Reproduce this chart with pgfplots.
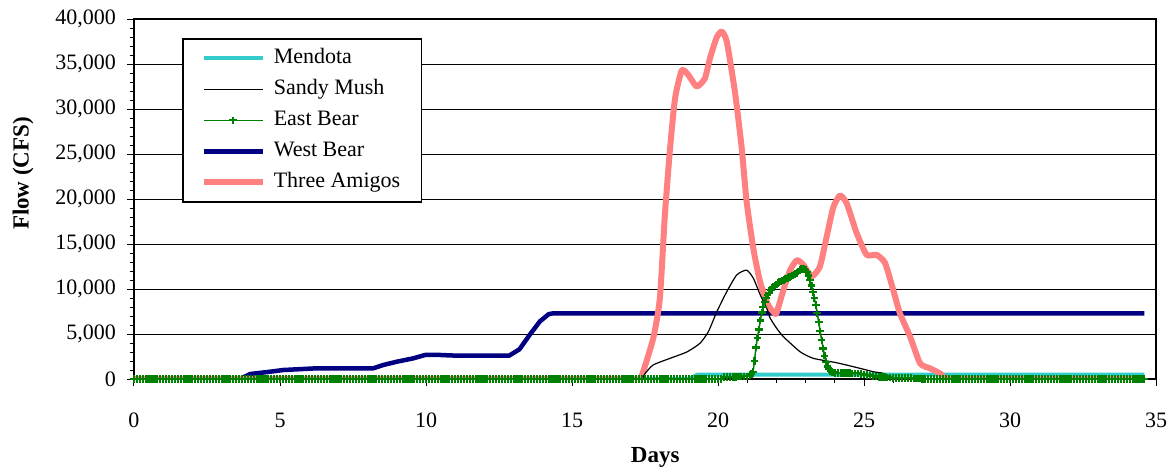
\documentclass[border=0pt]{standalone}
\usepackage{pgfplots}
\pgfplotsset{compat=1.18}
\usepackage{fontspec}
\setmainfont{Liberation Serif}
\definecolor{mendota}{HTML}{33CCCC}
\definecolor{westbear}{HTML}{000080}
\definecolor{amigos}{HTML}{FF8080}
\definecolor{eastbear}{HTML}{008000}
\begin{document}
\begin{tikzpicture}
\begin{axis}[
  name=ax, at={(0,0)}, anchor=south west,
  scale only axis, width=511pt, height=180pt,
  xmin=0, xmax=35, ymin=0, ymax=40000,
  xtick={0,5,...,35}, ytick={0,5000,...,40000},
  minor x tick num=4, minor y tick num=4,
  tick align=outside, xtick pos=left, ytick pos=left,
  major tick length=3.5pt, minor tick length=2pt,
  tick style={black, line width=0.5pt},
  scaled y ticks=false,
  /pgf/number format/assume math mode=true,
  yticklabel style={/pgf/number format/1000 sep={,}},
  ymajorgrids, major grid style={black, line width=0.5pt},
  axis line style={black, line width=0.75pt},
  ticklabel style={font=\fontsize{11}{13}\selectfont},
  xticklabel style={yshift=-10pt},
  yticklabel style={xshift=-2pt},
  xlabel={Days}, ylabel={Flow (CFS)},
  label style={font=\bfseries\fontsize{11.5}{13}\selectfont},
  xlabel style={at={(axis description cs:0.51,-0.217)}, anchor=center},
  ylabel style={at={(axis description cs:-0.1086,0.571)}, anchor=center},
  legend cell align=left,
  legend image code/.code={\draw[mark repeat=2,mark phase=2,#1] plot coordinates {(0pt,0pt) (14.75pt,0pt) (29.5pt,0pt)};},
  legend style={at={(axis description cs:0.047,0.947)}, anchor=north west,
    draw=black, line width=0.75pt, fill=white, font=\fontsize{11}{13}\selectfont,
    row sep=2pt, inner xsep=9pt, inner ysep=3pt,
    /tikz/every odd column/.append style={column sep=2.5pt},
    nodes={inner sep=1.5pt, text height=8pt, text depth=2.5pt}},
]
% Mendota
\addplot[mendota, line width=2pt, forget plot] coordinates {
(0,0) (19.0,0) (19.3,480) (34.6,480)};
% West Bear
\addplot[westbear, line width=2.25pt, line join=round, forget plot] coordinates {
(0,0) (3.63,0) (3.97,550) (4.66,810) (5.11,1000) (6.26,1190) (8.2,1190) (8.54,1560)
(9.0,1920) (9.57,2300) (9.97,2670) (10.48,2670) (11.0,2600) (12.85,2600) (13.2,3300)
(13.55,4900) (13.9,6400) (14.2,7200) (14.35,7300) (34.6,7300)};
% Three Amigos
\addplot[amigos, line width=3pt, line join=round, forget plot] coordinates {(0,0) (17.0,0)};
\addplot[amigos, line width=3pt, line join=round, smooth, tension=0.35, forget plot] coordinates {
(17.0,0) (17.2,0) (17.35,0) (17.78,4500) (18.01,9000) (18.18,18200) (18.36,25700) (18.53,31200)
(18.76,34300) (18.98,33800) (19.27,32500) (19.55,33400) (19.73,35700) (19.96,38000)
(20.13,38600) (20.30,37500) (20.58,31900) (20.81,25700) (20.98,19700) (21.21,14500)
(21.44,10800) (21.72,8200) (21.89,7500) (22.0,7300) (22.24,9900) (22.47,12100)
(22.70,13200) (22.92,12700) (23.21,11400) (23.49,12500) (23.72,15800) (23.95,19100)
(24.18,20400) (24.41,19500) (24.75,16200) (25.09,13800) (25.43,13800) (25.72,12900)
(26.00,9900) (26.23,7300) (26.58,4700) (26.92,1740) (27.26,1190) (27.60,630)
(27.8,0) (28.0,0) (28.2,0)};
\addplot[amigos, line width=3pt, line join=round, forget plot] coordinates {(28.2,0) (34.6,0)};
% Sandy Mush
\addplot[black, line width=0.6pt, line join=round, smooth, tension=0.35, forget plot] coordinates {
(17.0,0) (17.2,0) (17.4,0) (17.5,600) (17.78,1560) (18.36,2300) (18.93,3000) (19.38,3960)
(19.67,5260) (19.96,7480) (20.30,9700) (20.64,11560) (20.98,12100) (21.21,11200)
(21.44,9400) (21.67,7850) (21.78,6800) (22.01,5630) (22.24,4700) (22.81,3030)
(23.26,2300) (24.06,1810) (24.86,1190) (25.32,810) (25.66,630) (25.9,200) (26.1,0) (26.3,0) (26.5,0)};
\addplot[black, line width=0.6pt, forget plot] coordinates {(0,0) (17.0,0)};
\addplot[black, line width=0.6pt, forget plot] coordinates {(26.5,0) (34.6,0)};
% East Bear
\addplot[eastbear, line width=0.75pt, mark=+, mark size=1.9pt, mark options={line width=1.1pt}, forget plot] coordinates {
(0,0)(0.1,0)(0.2,0)(0.3,0)(0.4,0)(0.5,0)(0.6,0)(0.7,0)(0.8,0)(0.9,0)
(1,0)(1.1,0)(1.2,0)(1.3,0)(1.4,0)(1.5,0)(1.6,0)(1.7,0)(1.8,0)(1.9,0)
(2,0)(2.1,0)(2.2,0)(2.3,0)(2.4,0)(2.5,0)(2.6,0)(2.7,0)(2.8,0)(2.9,0)
(3,0)(3.1,0)(3.2,0)(3.3,0)(3.4,0)(3.5,0)(3.6,0)(3.7,0)(3.8,0)(3.9,0)
(4,0)(4.1,0)(4.2,0)(4.3,0)(4.4,0)(4.5,0)(4.6,0)(4.7,0)(4.8,0)(4.9,0)
(5,0)(5.1,0)(5.2,0)(5.3,0)(5.4,0)(5.5,0)(5.6,0)(5.7,0)(5.8,0)(5.9,0)
(6,0)(6.1,0)(6.2,0)(6.3,0)(6.4,0)(6.5,0)(6.6,0)(6.7,0)(6.8,0)(6.9,0)
(7,0)(7.1,0)(7.2,0)(7.3,0)(7.4,0)(7.5,0)(7.6,0)(7.7,0)(7.8,0)(7.9,0)
(8,0)(8.1,0)(8.2,0)(8.3,0)(8.4,0)(8.5,0)(8.6,0)(8.7,0)(8.8,0)(8.9,0)
(9,0)(9.1,0)(9.2,0)(9.3,0)(9.4,0)(9.5,0)(9.6,0)(9.7,0)(9.8,0)(9.9,0)
(10,0)(10.1,0)(10.2,0)(10.3,0)(10.4,0)(10.5,0)(10.6,0)(10.7,0)(10.8,0)(10.9,0)
(11,0)(11.1,0)(11.2,0)(11.3,0)(11.4,0)(11.5,0)(11.6,0)(11.7,0)(11.8,0)(11.9,0)
(12,0)(12.1,0)(12.2,0)(12.3,0)(12.4,0)(12.5,0)(12.6,0)(12.7,0)(12.8,0)(12.9,0)
(13,0)(13.1,0)(13.2,0)(13.3,0)(13.4,0)(13.5,0)(13.6,0)(13.7,0)(13.8,0)(13.9,0)
(14,0)(14.1,0)(14.2,0)(14.3,0)(14.4,0)(14.5,0)(14.6,0)(14.7,0)(14.8,0)(14.9,0)
(15,0)(15.1,0)(15.2,0)(15.3,0)(15.4,0)(15.5,0)(15.6,0)(15.7,0)(15.8,0)(15.9,0)
(16,0)(16.1,0)(16.2,0)(16.3,0)(16.4,0)(16.5,0)(16.6,0)(16.7,0)(16.8,0)(16.9,0)
(17,0)(17.1,0)(17.2,0)(17.3,0)(17.4,0)(17.5,0)(17.6,0)(17.7,0)(17.8,0)(17.9,0)
(18,0)(18.1,0)(18.2,0)(18.3,0)(18.4,0)(18.5,0)(18.6,0)(18.7,0)(18.8,0)(18.9,0)
(19,0)(19.1,0)(19.2,0)(19.3,0)(19.4,0)(19.5,0)(19.6,0)(19.7,0)(19.8,0)(19.9,0)
(20,0)(20.1,0)(20.2,250)(20.3,250)(20.4,250)(20.5,250)(20.6,250)(20.7,260)(20.8,280)(20.9,290)
(21,300)(21.1,400)(21.15,550)
(21.2,800)(21.25,2000)(21.3,3500)(21.35,4600)(21.4,5500)(21.45,6500)(21.5,7400)
(21.55,8000)(21.6,8600)(21.65,9000)(21.7,9300)(21.75,9600)(21.8,9900)(21.85,10100)(21.9,10250)(21.95,10400)(22,10500)
(22.05,10650)(22.1,10750)(22.15,10850)(22.2,10950)(22.25,11020)(22.3,11100)(22.35,11180)(22.4,11250)(22.45,11320)(22.5,11400)
(22.55,11500)(22.6,11600)(22.65,11700)(22.7,11800)(22.75,11950)(22.8,12100)(22.85,12200)(22.9,12250)(22.95,12200)(23,12100)
(23.05,11850)(23.1,11500)(23.15,11000)(23.2,10400)
(23.25,9700)(23.3,9000)(23.35,8200)(23.4,7300)(23.45,6300)(23.5,5300)(23.55,4300)
(23.6,3400)(23.65,2600)(23.7,1900)(23.75,1400)(23.8,1100)(23.85,900)(23.9,800)(23.95,740)
(24,700)(24.1,670)(24.2,650)(24.3,645)(24.4,640)(24.5,635)(24.6,630)(24.7,630)(24.8,630)(24.9,570)
(25,500)(25.1,440)(25.2,380)(25.3,320)(25.4,270)(25.5,240)(25.6,220)(25.7,200)(25.8,180)(25.9,160)
(26,140)(26.1,120)(26.2,110)(26.3,100)(26.4,90)(26.5,85)(26.6,80)(26.7,65)(26.8,50)(26.9,35)
(27,20)(27.1,10)(27.2,0)(27.3,0)(27.4,0)(27.5,0)(27.6,0)(27.7,0)(27.8,0)(27.9,0)
(28,0)(28.1,0)(28.2,0)(28.3,0)(28.4,0)(28.5,0)(28.6,0)(28.7,0)(28.8,0)(28.9,0)
(29,0)(29.1,0)(29.2,0)(29.3,0)(29.4,0)(29.5,0)(29.6,0)(29.7,0)(29.8,0)(29.9,0)
(30,0)(30.1,0)(30.2,0)(30.3,0)(30.4,0)(30.5,0)(30.6,0)(30.7,0)(30.8,0)(30.9,0)
(31,0)(31.1,0)(31.2,0)(31.3,0)(31.4,0)(31.5,0)(31.6,0)(31.7,0)(31.8,0)(31.9,0)
(32,0)(32.1,0)(32.2,0)(32.3,0)(32.4,0)(32.5,0)(32.6,0)(32.7,0)(32.8,0)(32.9,0)
(33,0)(33.1,0)(33.2,0)(33.3,0)(33.4,0)(33.5,0)(33.6,0)(33.7,0)(33.8,0)(33.9,0)
(34,0)(34.1,0)(34.2,0)(34.3,0)(34.4,0)(34.5,0)(34.6,0)};
% legend in original series order
\addlegendimage{mendota, line width=2pt}
\addlegendentry{Mendota}
\addlegendimage{black, line width=0.6pt}
\addlegendentry{Sandy Mush}
\addlegendimage{eastbear, line width=0.75pt, mark=+, mark size=1.9pt, mark options={line width=1.1pt}}
\addlegendentry{East Bear}
\addlegendimage{westbear, line width=2.25pt}
\addlegendentry{West Bear}
\addlegendimage{amigos, line width=3pt}
\addlegendentry{Three Amigos}
\end{axis}
\pgfresetboundingbox
\path[use as bounding box] (ax.south west) ++(-67pt,-44.5pt) rectangle ++(585.5pt,234pt);
\end{tikzpicture}
\end{document}
